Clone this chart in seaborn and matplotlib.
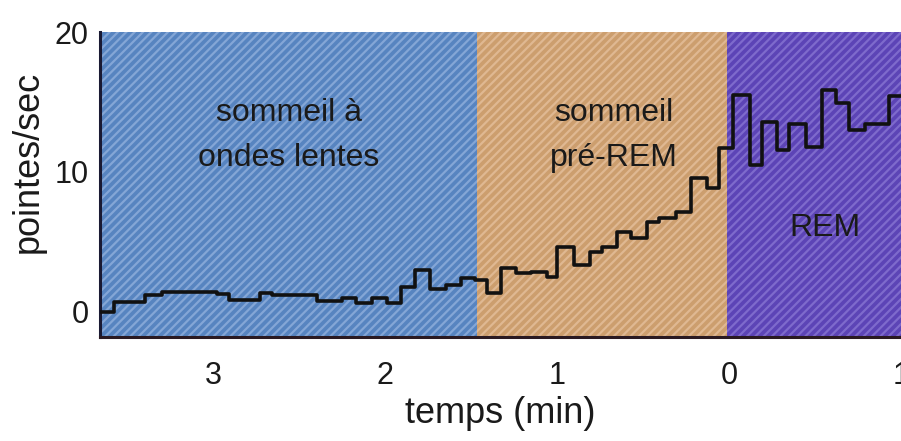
import matplotlib
matplotlib.use("Agg")
import matplotlib.pyplot as plt
import seaborn as sns
import numpy as np
import pandas as pd

# ---- data ----
# step edges (minutes relative to REM onset) and firing rate (spikes/s)
edges = [-3.66, -3.58, -3.40, -3.30, -2.98, -2.91, -2.73, -2.66, -2.40, -2.25,
         -2.17, -2.08, -1.99, -1.91, -1.83, -1.74, -1.65, -1.56, -1.48, -1.41,
         -1.33, -1.24, -1.15, -1.06, -1.00, -0.90, -0.81, -0.74, -0.65, -0.57,
         -0.48, -0.41, -0.31, -0.22, -0.13, -0.06, 0.02, 0.12, 0.19, 0.28,
         0.35, 0.45, 0.54, 0.62, 0.70, 0.79, 0.93, 1.00]
rates = [0.0, 0.7, 1.2, 1.4, 1.25, 0.85, 1.35, 1.2, 0.8, 1.0,
         0.65, 1.0, 0.65, 1.8, 3.0, 1.6, 1.9, 2.4, 2.3, 1.35,
         3.1, 2.8, 2.85, 2.5, 4.6, 3.35, 4.3, 4.65, 5.7, 5.3,
         6.4, 6.7, 7.15, 9.6, 8.85, 11.7, 15.5, 10.5, 13.6, 11.6,
         13.4, 11.8, 15.9, 14.9, 13.0, 13.4, 15.4]

phase_labels = ["sommeil à\nondes lentes", "sommeil\npré-REM", "REM"]
phase_bounds = [-3.66, -1.465, -0.01, 1.0]
phase_colors = ["#5784c0", "#cc9e6e", "#5c44b6"]
phase_hatch = ["#84a6d6", "#dfb892", "#7e6acc"]
phase_text_xy = [(-2.56, 12.6), (-0.67, 12.6), (0.56, 6.0)]

xtick_pos = [-3, -2, -1, 0, 1]
xtick_labels = ["3", "2", "1", "0", "1"]
ytick_pos = [0, 10, 20]

sns.set_theme(style="white")
plt.rcParams['font.family'] = ['Liberation Sans', 'DejaVu Sans']
plt.rcParams['hatch.linewidth'] = 1.6

fig = plt.figure(figsize=(9.01, 4.41), dpi=100)
ax = fig.add_axes([0.111, 0.236, 0.889, 0.691])

for i in range(3):
    ax.axvspan(phase_bounds[i], phase_bounds[i + 1], facecolor=phase_colors[i],
               edgecolor=phase_hatch[i], hatch="////", linewidth=0, zorder=0)
    tx, ty = phase_text_xy[i]
    ax.text(tx, ty, phase_labels[i], ha="center", va="center", fontsize=23,
            color="#1a1a1a", linespacing=1.65, zorder=3)

df = pd.DataFrame({"t": edges, "rate": rates + [rates[-1]]})
sns.lineplot(data=df, x="t", y="rate", drawstyle="steps-post", color="#111111",
             linewidth=2.6, ax=ax, zorder=4)

ax.set_xlim(-3.66, 1.0)
ax.set_ylim(-1.8, 20)
ax.set_xticks(xtick_pos)
ax.set_xticklabels(xtick_labels)
ax.set_yticks(ytick_pos)
ax.tick_params(axis="both", direction="in", length=12, width=1.6, colors="#1a1a2a",
               labelsize=22, labelcolor="#1a1a1a")
ax.tick_params(axis="x", pad=17)
ax.tick_params(axis="y", pad=8)
ax.set_xlabel("temps (min)", fontsize=26, color="#1a1a1a", labelpad=4)
ax.set_ylabel("pointes/sec", fontsize=26, color="#1a1a1a")
ax.yaxis.set_label_coords(-0.068, 0.575)

for s in ["top", "right"]:
    ax.spines[s].set_visible(False)
ax.spines["left"].set_color("#1a1a33")
ax.spines["bottom"].set_color("#2a1a22")
ax.spines["left"].set_linewidth(2.2)
ax.spines["bottom"].set_linewidth(2.2)

fig.savefig("out.png", dpi=100)
